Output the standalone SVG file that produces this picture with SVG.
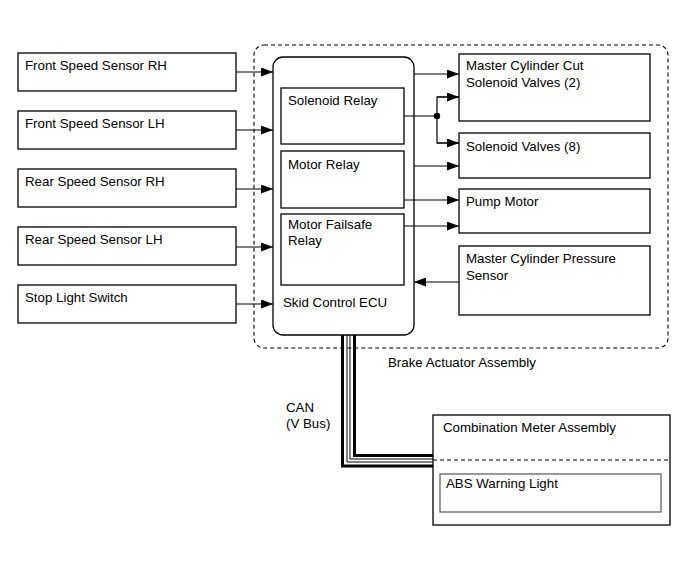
<svg xmlns="http://www.w3.org/2000/svg" width="691" height="564" viewBox="0 0 691 564">
<style>
text{font-family:"Liberation Sans",Arial,sans-serif;font-size:13.3px;fill:#000}
.box{fill:#fff;stroke:#000;stroke-width:1.3}
.ln{fill:none;stroke:#000;stroke-width:1.2}
.dash{fill:none;stroke:#000;stroke-width:1.1;stroke-dasharray:4 3}
</style>
<defs>
<marker id="ah" markerUnits="userSpaceOnUse" markerWidth="13" markerHeight="9" refX="12" refY="4.5" orient="auto">
<path d="M0,0 L12,4.5 L0,9 Z" fill="#000"/>
</marker>
</defs>
<rect width="691" height="564" fill="#fff"/>
<g id="brake-actuator-assembly">
<rect x="254" y="45" width="414" height="303" rx="10" class="dash"/>
<text x="388" y="367">Brake Actuator Assembly</text>
</g>
<g id="front-speed-sensor-rh"><rect x="18" y="53" width="218" height="38" class="box"/><text x="25" y="70">Front Speed Sensor RH</text></g>
<g id="front-speed-sensor-lh"><rect x="18" y="111" width="218" height="38" class="box"/><text x="25" y="128">Front Speed Sensor LH</text></g>
<g id="rear-speed-sensor-rh"><rect x="18" y="169" width="218" height="38" class="box"/><text x="25" y="186">Rear Speed Sensor RH</text></g>
<g id="rear-speed-sensor-lh"><rect x="18" y="227" width="218" height="38" class="box"/><text x="25" y="244">Rear Speed Sensor LH</text></g>
<g id="stop-light-switch"><rect x="18" y="285" width="218" height="38" class="box"/><text x="25" y="302">Stop Light Switch</text></g>
<g id="skid-control-ecu">
<rect x="273" y="57" width="141" height="278" rx="10" class="box"/>
<text x="283" y="307">Skid Control ECU</text>
</g>
<g id="solenoid-relay"><rect x="281" y="88" width="123" height="56" class="box"/><text x="288" y="105">Solenoid Relay</text></g>
<g id="motor-relay"><rect x="281" y="151" width="123" height="57" class="box"/><text x="288" y="169">Motor Relay</text></g>
<g id="motor-failsafe-relay"><rect x="281" y="214" width="123" height="71" class="box"/><text x="288" y="229">Motor Failsafe</text><text x="288" y="245">Relay</text></g>
<g id="master-cylinder-cut-solenoid-valves"><rect x="459" y="54" width="191" height="67" class="box"/><text x="466" y="70">Master Cylinder Cut</text><text x="466" y="87">Solenoid Valves (2)</text></g>
<g id="solenoid-valves"><rect x="459" y="133" width="191" height="45" class="box"/><text x="466" y="151">Solenoid Valves (8)</text></g>
<g id="pump-motor"><rect x="459" y="189" width="191" height="44" class="box"/><text x="466" y="206">Pump Motor</text></g>
<g id="master-cylinder-pressure-sensor"><rect x="459" y="246" width="191" height="69" class="box"/><text x="466" y="263">Master Cylinder Pressure</text><text x="466" y="280">Sensor</text></g>
<g id="combination-meter-assembly">
<rect x="433" y="415" width="237" height="110" class="box"/>
<line x1="433" y1="460" x2="670" y2="460" class="dash"/>
<text x="443" y="432">Combination Meter Assembly</text>
</g>
<g id="abs-warning-light"><rect x="440" y="474" width="221" height="38" fill="#fff" stroke="#555" stroke-width="1.2"/><text x="446" y="488">ABS Warning Light</text></g>
<g id="connectors">
<line x1="236" y1="72" x2="273" y2="72" class="ln" marker-end="url(#ah)"/>
<line x1="236" y1="130" x2="273" y2="130" class="ln" marker-end="url(#ah)"/>
<line x1="236" y1="189" x2="273" y2="189" class="ln" marker-end="url(#ah)"/>
<line x1="236" y1="247" x2="273" y2="247" class="ln" marker-end="url(#ah)"/>
<line x1="236" y1="304" x2="273" y2="304" class="ln" marker-end="url(#ah)"/>
<line x1="414" y1="74" x2="459" y2="74" class="ln" marker-end="url(#ah)"/>
<line x1="404" y1="116" x2="437" y2="116" class="ln"/>
<path d="M459,97 H437 V143 H459" class="ln"/>
<line x1="437" y1="97" x2="459" y2="97" class="ln" marker-end="url(#ah)"/>
<line x1="437" y1="143" x2="459" y2="143" class="ln" marker-end="url(#ah)"/>
<circle cx="437" cy="116" r="3.2" fill="#000"/>
<line x1="414" y1="166" x2="459" y2="166" class="ln" marker-end="url(#ah)"/>
<line x1="404" y1="200" x2="459" y2="200" class="ln" marker-end="url(#ah)"/>
<line x1="404" y1="226" x2="459" y2="226" class="ln" marker-end="url(#ah)"/>
<line x1="459" y1="282" x2="414" y2="282" class="ln" marker-end="url(#ah)"/>
<path d="M342.5,335 V466 H433" fill="none" stroke="#000" stroke-width="3"/>
<path d="M347,335 V462 H433" fill="none" stroke="#000" stroke-width="1"/>
<path d="M350,335 V459 H433" fill="none" stroke="#000" stroke-width="1"/>
<path d="M354.5,335 V455.5 H433" fill="none" stroke="#000" stroke-width="3"/>
<text x="286" y="412">CAN</text>
<text x="286" y="428">(V Bus)</text>
</g>
</svg>
